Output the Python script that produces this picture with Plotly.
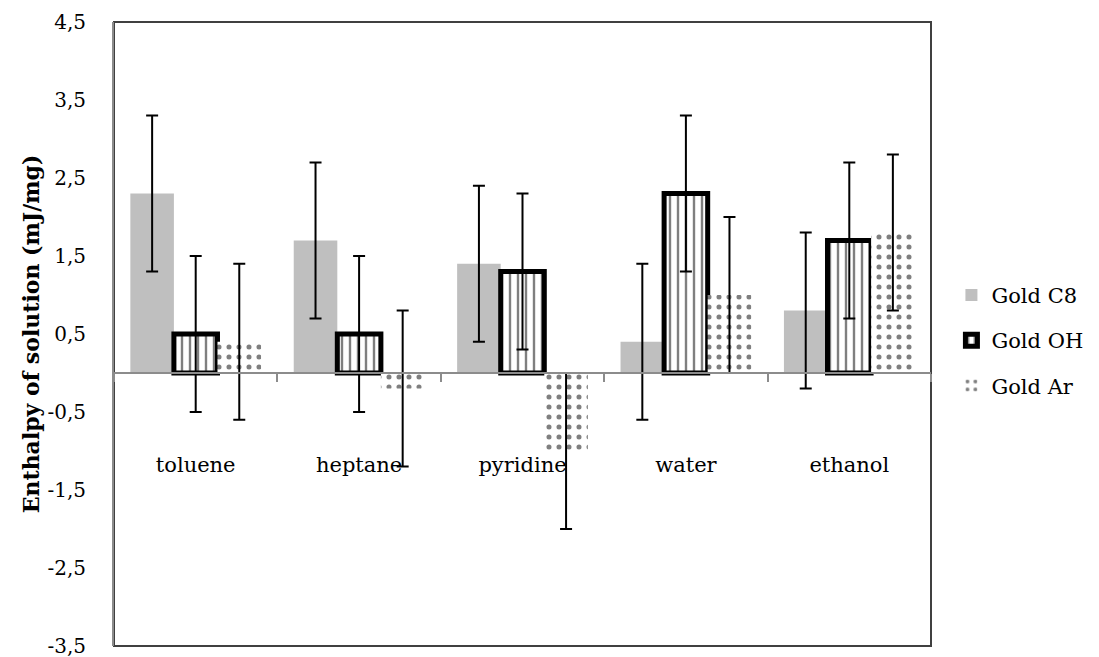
import plotly.graph_objects as go

categories = ["toluene", "heptane", "pyridine", "water", "ethanol"]
gold_c8 = [2.3, 1.7, 1.4, 0.4, 0.8]
gold_oh = [0.5, 0.5, 1.3, 2.3, 1.7]
gold_ar = [0.4, -0.2, -1.0, 1.0, 1.8]
err_c8 = [1.0, 1.0, 1.0, 1.0, 1.0]
err_oh = [1.0, 1.0, 1.0, 1.0, 1.0]
err_ar = [1.0, 1.0, 1.0, 1.0, 1.0]
y_ticks = [-3.5, -2.5, -1.5, -0.5, 0.5, 1.5, 2.5, 3.5, 4.5]
y_ticktext = ["-3,5", "-2,5", "-1,5", "-0,5", "0,5", "1,5", "2,5", "3,5", "4,5"]

FONT = "DejaVu Serif"
eb = dict(type="data", thickness=2, width=6, color="black")

fig = go.Figure()
fig.add_trace(go.Bar(
    name="Gold C8", x=categories, y=gold_c8,
    marker=dict(color="#BFBFBF", line=dict(width=0)),
    error_y=dict(array=err_c8, **eb), legendgroup="a",
))
fig.add_trace(go.Bar(
    name="Gold OH", x=categories, y=gold_oh,
    marker=dict(color="white", line=dict(width=5, color="black"),
                pattern=dict(shape="|", size=8, solidity=0.3, fgcolor="black", bgcolor="white", fillmode="overlay")),
    error_y=dict(array=err_oh, **eb), legendgroup="b",
))
fig.add_trace(go.Bar(
    name="Gold Ar", x=categories, y=gold_ar,
    marker=dict(color="white", line=dict(width=0),
                pattern=dict(shape=".", size=10, solidity=0.2, fgcolor="black", bgcolor="white", fillmode="overlay")),
    error_y=dict(array=err_ar, **eb), legendgroup="c",
))

fig.update_layout(
    width=1099, height=657,
    margin=dict(l=114, r=161, t=22, b=11),
    paper_bgcolor="white", plot_bgcolor="white",
    barmode="group", bargap=0.2, bargroupgap=0,
    font=dict(family=FONT, size=21, color="black"),
    legend=dict(x=1.025, y=0.49, xanchor="left", yanchor="middle",
                font=dict(family=FONT, size=21), traceorder="grouped",
                tracegroupgap=15, bgcolor="rgba(0,0,0,0)"),
    xaxis=dict(
        type="category", anchor="free", position=3.5 / 8.0,
        showline=True, linecolor="#8C8C8C", linewidth=2,
        ticks="outside", tickson="boundaries", ticklen=8, tickcolor="#8C8C8C", tickwidth=2,
        showgrid=False, zeroline=False, automargin=False,
        tickfont=dict(family=FONT, size=21), ticklabelstandoff=73,
    ),
    yaxis=dict(
        range=[-3.5, 4.5], tickvals=y_ticks, ticktext=y_ticktext,
        showline=True, linecolor="#8C8C8C", linewidth=2,
        showgrid=False, zeroline=False, ticks="", automargin=False,
        ticklabeloverflow="allow",
        ticklabelstandoff=22, tickfont=dict(family=FONT, size=20),
        title=dict(text="<b>Enthalpy of solution (mJ/mg)</b>", standoff=2,
                   font=dict(family=FONT, size=22)),
    ),
    shapes=[dict(type="rect", xref="paper", yref="paper", x0=0, x1=1, y0=0, y1=1,
                 line=dict(color="#404040", width=2), layer="below")],
)

fig.write_html("out.html", config={"displayModeBar": False},
               post_script="document.body.style.margin='0';")
